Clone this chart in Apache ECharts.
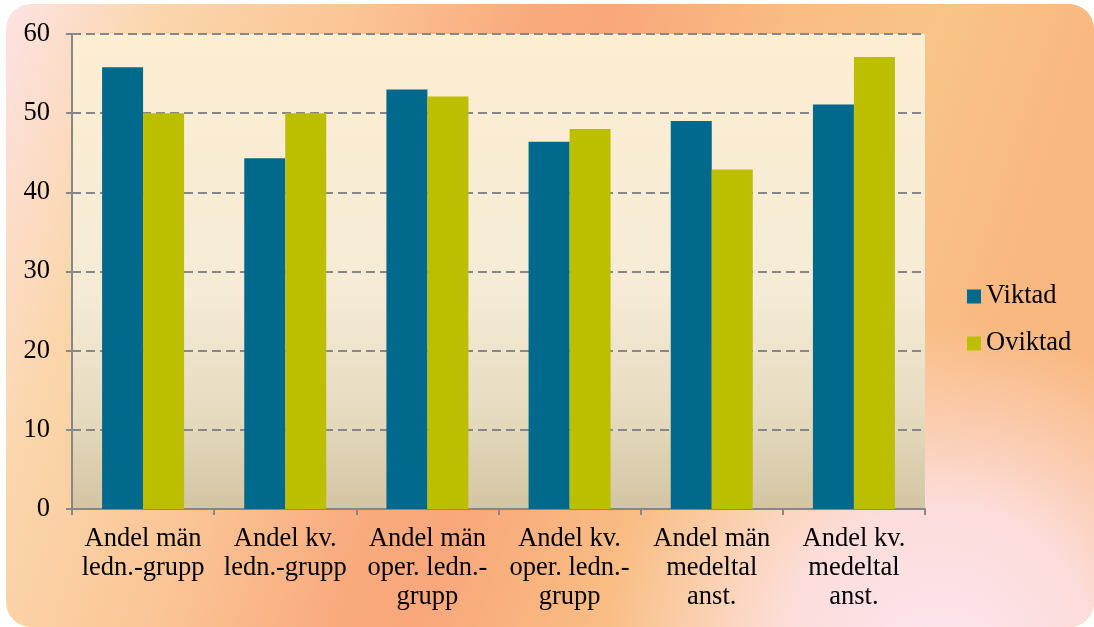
<!DOCTYPE html>
<html>
<head>
<meta charset="utf-8">
<script src="https://cdn.jsdelivr.net/npm/echarts@6/dist/echarts.min.js"></script>
<style>
html,body{margin:0;padding:0;background:#ffffff;}
#chart{width:1094px;height:627px;}
</style>
</head>
<body>
<div id="chart"></div>
<script>
const categories = [
  "Andel män\nledn.-grupp",
  "Andel kv.\nledn.-grupp",
  "Andel män\noper. ledn.-\ngrupp",
  "Andel kv.\noper. ledn.-\ngrupp",
  "Andel män\nmedeltal\nanst.",
  "Andel kv.\nmedeltal\nanst."
];
const viktad = [55.8, 44.3, 53.0, 46.4, 49.0, 51.1];
const oviktad = [50.0, 50.0, 52.1, 48.0, 42.9, 57.1];
const seriesNames = ["Viktad", "Oviktad"];
const yMin = 0, yMax = 60, yStep = 10;

const FONT = "'Liberation Serif', 'Times New Roman', serif";
const FS = 26.5;
const chart = echarts.init(document.getElementById('chart'), null, {renderer: 'canvas'});

const option = {
  animation: false,
  backgroundColor: '#ffffff',
  textStyle: {fontFamily: FONT},
  graphic: [
    {
      type: 'rect', z: -100, silent: true,
      shape: {x: 6, y: 4, width: 1088, height: 623, r: 25},
      style: {
        fill: new echarts.graphic.LinearGradient(0, 0, 1000, 319, [
          {offset: 0, color: '#fde3e6'},
          {offset: 0.15, color: '#fbd6ab'},
          {offset: 0.32, color: '#fbc596'},
          {offset: 0.48, color: '#f9ab7e'},
          {offset: 0.56, color: '#f9a77b'},
          {offset: 0.72, color: '#f9bc83'},
          {offset: 0.86, color: '#f9c487'},
          {offset: 1, color: '#f9b880'}
        ], true)
      }
    },
    {
      type: 'rect', z: -99, silent: true,
      shape: {x: 6, y: 4, width: 1088, height: 623, r: 25},
      style: {
        fill: new echarts.graphic.RadialGradient(940, 660, 340, [
          {offset: 0, color: 'rgba(253,228,238,1)'},
          {offset: 0.45, color: 'rgba(253,226,232,0.88)'},
          {offset: 1, color: 'rgba(253,224,220,0)'}
        ], true)
      }
    }
  ],
  grid: {
    left: 72, right: 169, top: 34, bottom: 118,
    show: true,
    borderWidth: 0,
    backgroundColor: new echarts.graphic.LinearGradient(0, 0, 0, 1, [
      {offset: 0, color: '#fdeed2'},
      {offset: 0.55, color: '#f5ebd6'},
      {offset: 0.8, color: '#e6dbbf'},
      {offset: 1, color: '#d3c5a3'}
    ])
  },
  legend: {
    orient: 'vertical',
    left: 967, top: 281,
    padding: 0,
    itemWidth: 14, itemHeight: 14,
    itemGap: 16,
    icon: 'rect',
    data: seriesNames,
    textStyle: {fontFamily: FONT, fontSize: FS, color: '#000', lineHeight: 31}
  },
  xAxis: {
    type: 'category',
    data: categories,
    axisLine: {show: true, lineStyle: {color: '#878787', width: 2}},
    axisTick: {show: true, length: 6, lineStyle: {color: '#878787', width: 2}},
    axisLabel: {
      interval: 0, margin: 16,
      fontFamily: FONT, fontSize: FS, color: '#000', lineHeight: 29, align: 'center'
    },
    splitLine: {show: false}
  },
  yAxis: {
    type: 'value',
    min: yMin, max: yMax, interval: yStep,
    axisLine: {show: true, lineStyle: {color: '#878787', width: 2}},
    axisTick: {show: true, length: 6, lineStyle: {color: '#878787', width: 2}},
    axisLabel: {margin: 22, fontFamily: FONT, fontSize: FS, color: '#000'},
    splitLine: {show: true, lineStyle: {color: '#878787', width: 2, type: [9, 5]}}
  },
  series: [
    {
      name: seriesNames[0], type: 'bar', data: viktad,
      barWidth: 41, barGap: '0%',
      itemStyle: {color: '#00698c'}
    },
    {
      name: seriesNames[1], type: 'bar', data: oviktad,
      barWidth: 41, barGap: '0%',
      itemStyle: {color: '#bcbe00'}
    }
  ]
};
chart.setOption(option);
</script>
</body>
</html>
